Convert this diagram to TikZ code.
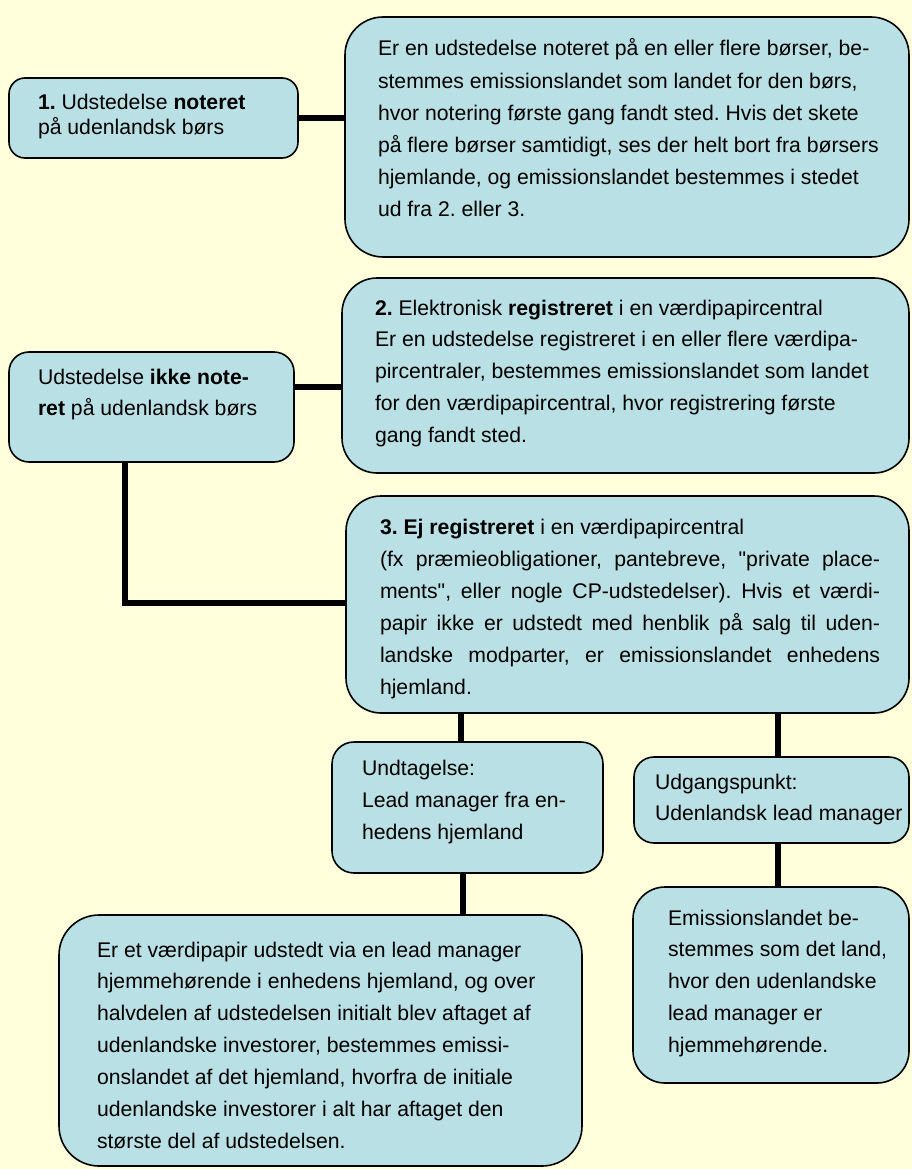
\documentclass[tikz,border=0pt]{standalone}
\usepackage{fontspec}
\setmainfont{Liberation Sans}[Ligatures=TeXOff]
\definecolor{bgyellow}{RGB}{255,255,220}
\definecolor{boxfill}{RGB}{185,224,228}
\newcommand\tbox[3][32]{\parbox[t]{#2}{\fontsize{21.2}{#1}\selectfont\frenchspacing\raggedright #3}}
\newcommand\jline[1]{\makebox[500pt][s]{#1}}
\begin{document}
\begin{tikzpicture}[x=1pt,y=-1pt,
  box/.style={draw=black, line width=1.6pt, fill=boxfill, inner sep=0pt, outer sep=0pt},
  conn/.style={line width=6pt, black, line join=miter},
  txt/.style={inner sep=0pt, outer sep=0pt, anchor=base west}]
\fill[bgyellow] (0,0) rectangle (912,1169);
\useasboundingbox (0,0) rectangle (912,1169);

% boxes
\node[box, minimum width=289pt, minimum height=80pt, rounded corners=16pt] (A) at (153.5,118) {};
\node[box, minimum width=564pt, minimum height=240pt, rounded corners=38pt] (B) at (627,137) {};
\node[box, minimum width=285pt, minimum height=110pt, rounded corners=20pt] (C) at (151.5,407) {};
\node[box, minimum width=567pt, minimum height=195pt, rounded corners=35pt] (D) at (625.5,375.5) {};
\node[box, minimum width=563pt, minimum height=217pt, rounded corners=35pt] (E) at (627.5,604.5) {};
\node[box, minimum width=271pt, minimum height=131pt, rounded corners=22pt] (F) at (467.5,807.5) {};
\node[box, minimum width=275pt, minimum height=86pt, rounded corners=20pt] (G) at (771.5,800) {};
\node[box, minimum width=523pt, minimum height=251pt, rounded corners=40pt] (H) at (320.5,1040.5) {};
\node[box, minimum width=276pt, minimum height=196pt, rounded corners=32pt] (I) at (771,985) {};

% connector coordinates
\coordinate (cd) at (0,387);
\coordinate (ce) at (125,603);
\coordinate (ef) at (461,0);
\coordinate (eg) at (778,0);
\coordinate (fh) at (463,0);

% connectors
\draw[conn] (A.east) -- (A.east -| B.west);
\draw[conn] (C.east |- cd) -- (D.west |- cd);
\draw[conn] (C.south -| ce) |- (E.west |- ce);
\draw[conn] (E.south -| ef) -- (F.north -| ef);
\draw[conn] (E.south -| eg) -- (G.north -| eg);
\draw[conn] (F.south -| fh) -- (H.north -| fh);
\draw[conn] (G.south -| eg) -- (I.north -| eg);

% texts
\node[txt] (At) at (38,110) {\tbox[25]{280pt}{\textbf{1.} Udstedelse \textbf{noteret}\\
på udenlandsk børs}};

\node[txt] (Bt) at (378,56) {\tbox[32.2]{560pt}{Er en udstedelse noteret på en eller flere børser, be-\\
stemmes emissionslandet som landet for den børs,\\
hvor notering første gang fandt sted. Hvis det skete\\
på flere børser samtidigt, ses der helt bort fra børsers\\
hjemlande, og emissionslandet bestemmes i stedet\\
ud fra 2. eller 3.}};

\node[txt] (Ct) at (38,384) {\tbox[31.7]{280pt}{Udstedelse \textbf{ikke note-}\\
\textbf{ret} på udenlandsk børs}};

\node[txt] (Dt) at (375,315) {\tbox[31.8]{560pt}{\textbf{2.} Elektronisk \textbf{registreret} i en værdipapircentral\\
Er en udstedelse registreret i en eller flere værdipa-\\
pircentraler, bestemmes emissionslandet som landet\\
for den værdipapircentral, hvor registrering første\\
gang fandt sted.}};

\node[txt] (Et) at (380,534) {\tbox[32]{560pt}{\textbf{3. Ej registreret} i en værdipapircentral\\
\jline{(fx præmieobligationer, pantebreve, "private place-}\\
\jline{ments", eller nogle CP-udstedelser). Hvis et værdi-}\\
\jline{papir ikke er udstedt med henblik på salg til uden-}\\
\jline{landske modparter, er emissionslandet enhedens}\\
hjemland.}};

\node[txt] (Ft) at (362,775) {\tbox[32]{260pt}{Undtagelse:\\
Lead manager fra en-\\
hedens hjemland}};

\node[txt] (Gt) at (655,789) {\tbox[31]{260pt}{Udgangspunkt:\\
Udenlandsk lead manager}};

\node[txt] (It) at (668,925) {\tbox[31.8]{260pt}{Emissionslandet be-\\
stemmes som det land,\\
hvor den udenlandske\\
lead manager er\\
hjemmehørende.}};

\node[txt] (Ht) at (97,957) {\tbox[31.9]{480pt}{Er et værdipapir udstedt via en lead manager\\
hjemmehørende i enhedens hjemland, og over\\
halvdelen af udstedelsen initialt blev aftaget af\\
udenlandske investorer, bestemmes emissi-\\
onslandet af det hjemland, hvorfra de initiale\\
udenlandske investorer i alt har aftaget den\\
største del af udstedelsen.}};
\end{tikzpicture}
\end{document}
